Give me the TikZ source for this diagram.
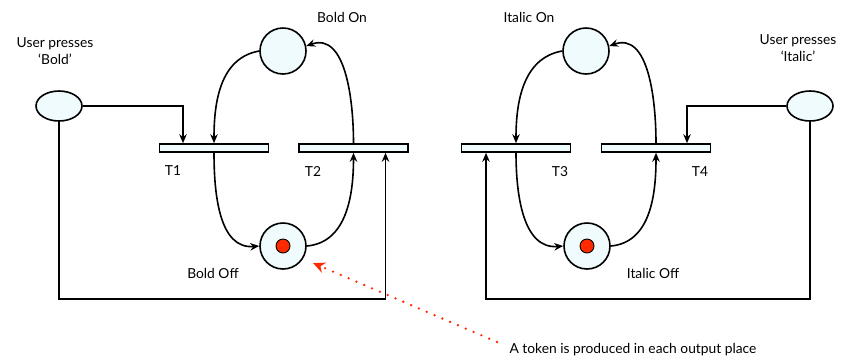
\documentclass[tikz,border=0pt]{standalone}
\usepackage{fontspec}
\setmainfont{Lato}
\usetikzlibrary{arrows.meta,calc,shapes.geometric}
\definecolor{placefill}{RGB}{239,251,253}
\definecolor{tokenred}{RGB}{255,42,0}
\begin{document}
\begin{tikzpicture}[x=1pt,y=-1pt,
  every node/.style={font=\fontsize{13.8}{17}\selectfont},
  place/.style={circle,draw,line width=1.6pt,fill=placefill,minimum size=46pt,inner sep=0pt},
  inplace/.style={ellipse,draw,line width=1.6pt,fill=placefill,minimum width=46pt,minimum height=30pt,inner sep=0pt},
  bar/.style={rectangle,draw,line width=1.6pt,fill=placefill,minimum width=109pt,minimum height=8pt,inner sep=0pt},
  token/.style={circle,draw,line width=0.9pt,fill=tokenred,minimum size=14pt,inner sep=0pt},
  arc/.style={line width=1.6pt,-{Stealth[length=9pt,width=7.5pt]}},
  note/.style={draw=tokenred,line width=2.6pt,line cap=round,dash pattern=on 0pt off 8.5pt,
    -{Stealth[length=12pt,width=11pt,fill=tokenred,line width=0pt]}},
  lbl/.style={align=center,inner sep=0pt}]
\useasboundingbox (0,0) rectangle (854,360);

% places and transitions, bold half
\node[place] (bon)  at (283,51) {};
\node[place] (boff) at (283,246) {};
\node[token] at (boff.center) {};
\node[inplace] (ub) at (59,106) {};
\node[bar] (t1) at (214,148) {};
\node[bar] (t2) at (353.5,148) {};

% places and transitions, italic half
\node[place] (ion)  at (586,51) {};
\node[place] (ioff) at (587,246) {};
\node[token] at (ioff.center) {};
\node[inplace] (ui) at (810,106) {};
\node[bar] (t3) at (516,148) {};
\node[bar] (t4) at (656,148) {};

% labels
\node[lbl] at (342,17) {Bold On};
\node[lbl] at (55,51) {User presses\\‘Bold’};
\node[lbl] at (173,171) {T1};
\node[lbl] at (313,171) {T2};
\node[lbl] at (213,273) {Bold Off};
\node[lbl] at (529,17) {Italic On};
\node[lbl] at (798,48) {User presses\\‘Italic’};
\node[lbl] at (560,172) {T3};
\node[lbl] at (700,172) {T4};
\node[lbl] at (653,273) {Italic Off};
\node[lbl] (note) at (633,350) {A token is produced in each output place};

% bold arcs
\draw[arc] (bon.west) to[out=190,in=90] (t1.north);
\draw[arc] (t1.south) to[out=-90,in=185] (boff.west);
\draw[arc] (boff.east) to[out=5,in=-90] (t2.south);
\draw[arc] (t2.north) to[out=90,in=20] (bon.12);
\draw[arc] (ub.east) -| ([xshift=-31pt]t1.north);
\draw[arc] (ub.south) -- ++(0,177) -| ([xshift=32pt]t2.south);

% italic arcs
\draw[arc] (ion.west) to[out=190,in=90] (t3.north);
\draw[arc] (t3.south) to[out=-90,in=185] (ioff.west);
\draw[arc] (ioff.east) to[out=5,in=-90] (t4.south);
\draw[arc] (t4.north) to[out=90,in=20] (ion.12);
\draw[arc] (ui.west) -| ([xshift=31pt]t4.north);
\draw[arc] (ui.south) -- ++(0,177) -| ([xshift=-30pt]t3.south);

% annotation pointer
\coordinate (notestart) at (497,342);
\coordinate (notetip) at (313,263);
\draw[note] (notestart) -- (notetip);
\end{tikzpicture}
\end{document}
